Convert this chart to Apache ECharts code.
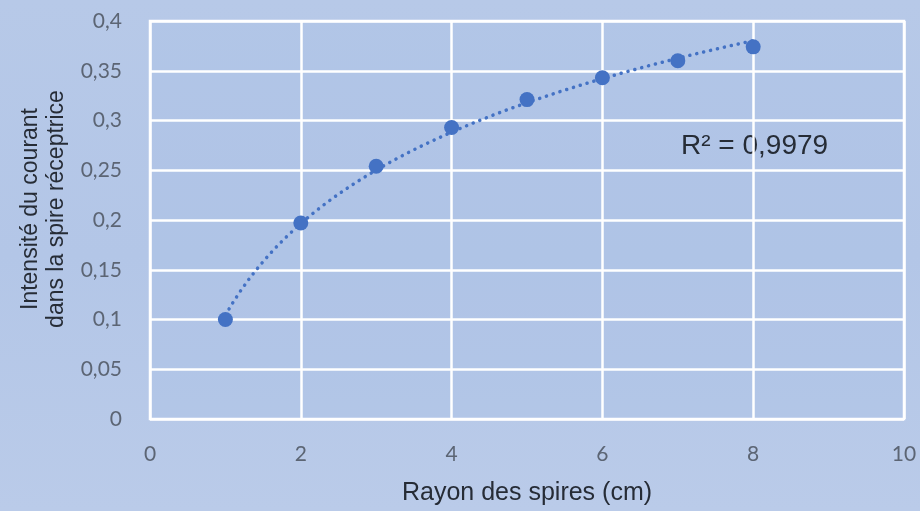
<!DOCTYPE html>
<html>
<head>
<meta charset="utf-8">
<script src="https://cdn.jsdelivr.net/npm/echarts@6/dist/echarts.min.js"></script>
<style>
html,body{margin:0;padding:0;}
#c{width:920px;height:511px;background:linear-gradient(180deg,#b7c9e8 0%,#b3c6e7 50%,#bacbe9 100%);}
</style>
</head>
<body>
<div id="c"></div>
<script>
const radius = [1, 2, 3, 4, 5, 6, 7, 8];
const intensity = [0.100, 0.197, 0.254, 0.293, 0.321, 0.343, 0.360, 0.374];
const xTicks = [0, 2, 4, 6, 8, 10];
const yTicks = [0, 0.05, 0.1, 0.15, 0.2, 0.25, 0.3, 0.35, 0.4];
const r2Label = 'R² = 0,9979';
const xTitle = 'Rayon des spires (cm)';
const yTitle = 'Intensité du courant\ndans la spire réceptrice';

// logarithmic least-squares trendline (as in the spreadsheet) from the data
const lx = radius.map(Math.log);
const n = lx.length;
const mx = lx.reduce((a, b) => a + b, 0) / n;
const my = intensity.reduce((a, b) => a + b, 0) / n;
let sxy = 0, sxx = 0;
for (let i = 0; i < n; i++) { sxy += (lx[i] - mx) * (intensity[i] - my); sxx += (lx[i] - mx) ** 2; }
const slope = sxy / sxx, icpt = my - slope * mx;
const trend = [];
for (let k = 0; k <= 70; k++) { const x = 1 + k * 0.1; trend.push([x, icpt + slope * Math.log(x)]); }

const chart = echarts.init(document.getElementById('c'), null, {renderer: 'canvas'});
chart.setOption({
  backgroundColor: 'transparent',
  grid: {left: 150, right: 16, top: 21, bottom: 91, show: true, backgroundColor: 'rgba(170,192,230,0.35)', borderColor: '#ffffff', borderWidth: 2.5},
  xAxis: {
    type: 'value', min: xTicks[0], max: xTicks[xTicks.length - 1], interval: 2,
    axisLine: {show: false}, axisTick: {show: false},
    splitLine: {lineStyle: {color: '#ffffff', width: 2.5}},
    axisLabel: {color: '#5c6574', fontSize: 21, fontFamily: 'Lato', margin: 25},
    name: xTitle, nameLocation: 'middle', nameGap: 62,
    nameTextStyle: {color: '#262c36', fontSize: 25, fontFamily: 'Liberation Sans'}
  },
  yAxis: {
    type: 'value', min: yTicks[0], max: yTicks[yTicks.length - 1], interval: 0.05,
    axisLine: {show: false}, axisTick: {show: false},
    splitLine: {lineStyle: {color: '#ffffff', width: 2.5}},
    axisLabel: {color: '#5c6574', fontSize: 21, fontFamily: 'Lato', margin: 28,
      formatter: v => String(parseFloat(v.toFixed(2))).replace('.', ',')},
    name: yTitle, nameLocation: 'middle', nameGap: 72, nameRotate: 90,
    nameTextStyle: {color: '#262c36', fontSize: 23, fontFamily: 'Liberation Sans', lineHeight: 26, padding: [0, 0, 0, 22]}
  },
  graphic: [{
    type: 'text', left: 681, top: 132,
    style: {text: r2Label, fill: '#262c36', font: '28px "Liberation Sans"'}
  }],
  series: [
    {
      type: 'line', data: trend, showSymbol: false, smooth: false, silent: true,
      lineStyle: {color: '#4472c4', width: 3.5, type: [0.1, 7], cap: 'round'}, z: 2
    },
    {
      type: 'scatter', data: radius.map((x, i) => [x, intensity[i]]),
      symbolSize: 15, itemStyle: {color: '#4472c4', opacity: 1}, z: 3
    }
  ]
});
</script>
</body>
</html>
